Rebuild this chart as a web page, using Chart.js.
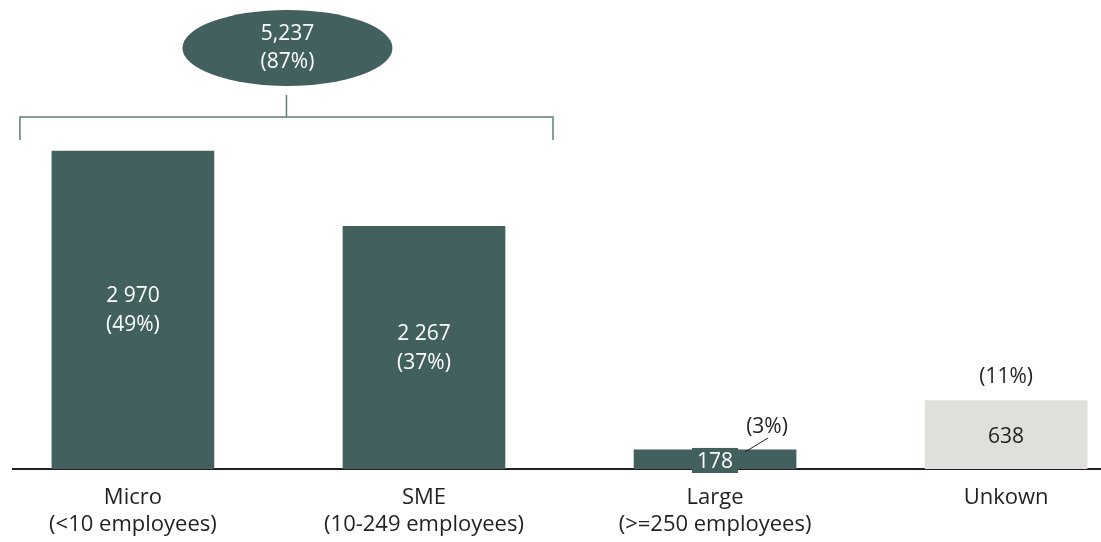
<!DOCTYPE html>
<html>
<head>
<meta charset="utf-8">
<script src="https://cdn.jsdelivr.net/npm/chart.js@4/dist/chart.umd.min.js"></script>
<style>
  html, body { margin: 0; padding: 0; background: #fff; }
  #wrap { width: 1101px; height: 542px; position: relative; }
</style>
</head>
<body>
<div id="wrap"><canvas id="c"></canvas></div>
<script>
const CATEGORIES = [
  ['Micro', '(<10 employees)'],
  ['SME', '(10-249 employees)'],
  ['Large', '(>=250 employees)'],
  ['Unkown'],
];
const COUNTS = [2970, 2267, 178, 638];
const SHARES = ['(49%)', '(37%)', '(3%)', '(11%)'];
const BAR_COLORS = ['#41605e', '#41605e', '#41605e', '#e1dfdb'];
const GROUP_TOTAL = '5,237';
const GROUP_SHARE = '(87%)';

const FONT = '"Open Sans", "Noto Sans", sans-serif';
const DARK = '#231f20';
const TEAL = '#41605e';

const fmt = n => String(n).replace(/\B(?=(\d{3})+(?!\d))/g, ' ');

const labelsPlugin = {
  id: 'barLabels',
  afterDatasetsDraw(chart) {
    const ctx = chart.ctx;
    const bars = chart.getDatasetMeta(0).data;
    ctx.save();
    ctx.font = `21px ${FONT}`;
    ctx.textAlign = 'center';
    ctx.textBaseline = 'middle';

    // big bars: value + share inside
    [0, 1].forEach(i => {
      const b = bars[i];
      const mid = (b.y + b.base) / 2;
      ctx.fillStyle = '#fff';
      ctx.fillText(fmt(COUNTS[i]), b.x, mid - 14);
      ctx.fillText(SHARES[i], b.x, mid + 15);
    });

    // large: boxed value + leader to share
    const lg = bars[2];
    ctx.fillStyle = TEAL;
    ctx.fillRect(lg.x - 23, lg.y - 2, 46, lg.base - lg.y + 6);
    ctx.fillStyle = '#fff';
    ctx.fillText(fmt(COUNTS[2]), lg.x, (lg.y + lg.base) / 2 + 3);
    ctx.strokeStyle = DARK;
    ctx.lineWidth = 1;
    ctx.beginPath();
    ctx.moveTo(lg.x + 30, lg.y + 2);
    ctx.lineTo(lg.x + 53, lg.y - 12);
    ctx.stroke();
    ctx.fillStyle = DARK;
    ctx.fillText(SHARES[2], lg.x + 52, lg.y - 23);

    // unknown
    const uk = bars[3];
    ctx.fillStyle = DARK;
    ctx.fillText(fmt(COUNTS[3]), uk.x, (uk.y + uk.base) / 2 + 2);
    ctx.fillText(SHARES[3], uk.x, uk.y - 24);

    // bracket over micro + sme
    const m = bars[0], s = bars[1];
    const left = m.x - 113, right = s.x + 129, by = m.y - 34;
    const cx = (left + right) / 2;
    ctx.strokeStyle = '#5e7f7a';
    ctx.lineWidth = 1.5;
    ctx.beginPath();
    ctx.moveTo(left, by + 23);
    ctx.lineTo(left, by);
    ctx.lineTo(right, by);
    ctx.lineTo(right, by + 23);
    ctx.moveTo(cx, by);
    ctx.lineTo(cx, by - 22);
    ctx.stroke();

    ctx.fillStyle = TEAL;
    ctx.beginPath();
    ctx.ellipse(cx + 1, by - 69, 105, 38, 0, 0, Math.PI * 2);
    ctx.fill();
    ctx.fillStyle = '#fff';
    ctx.fillText(GROUP_TOTAL, cx + 1, by - 83);
    ctx.fillText(GROUP_SHARE, cx + 1, by - 55);
    ctx.restore();
  }
};

new Chart(document.getElementById('c'), {
  type: 'bar',
  data: {
    datasets: [{
      data: COUNTS.map((v, i) => ({ x: i, y: v })),
      backgroundColor: BAR_COLORS,
      barThickness: 162,
      borderWidth: 0,
    }]
  },
  options: {
    responsive: true,
    maintainAspectRatio: false,
    animation: false,
    layout: { padding: { left: 13, right: 0, top: 0, bottom: 0 } },
    plugins: { legend: { display: false }, tooltip: { enabled: false } },
    scales: {
      x: {
        type: 'linear',
        min: -0.412,
        max: 3.326,
        offset: false,
        grid: { display: false, drawTicks: false },
        border: { display: true, color: DARK, width: 2 },
        afterBuildTicks: axis => { axis.ticks = CATEGORIES.map((_, i) => ({ value: i })); },
        afterFit: axis => { axis.height = 73; },
        ticks: {
          autoSkip: false,
          maxRotation: 0,
          padding: 15,
          color: DARK,
          font: { family: FONT, size: 22, lineHeight: 1.22 },
          callback: v => CATEGORIES[v],
        },
      },
      y: {
        display: false,
        min: 0,
        max: 4380,
      },
    },
  },
  plugins: [labelsPlugin],
});
</script>
</body>
</html>
